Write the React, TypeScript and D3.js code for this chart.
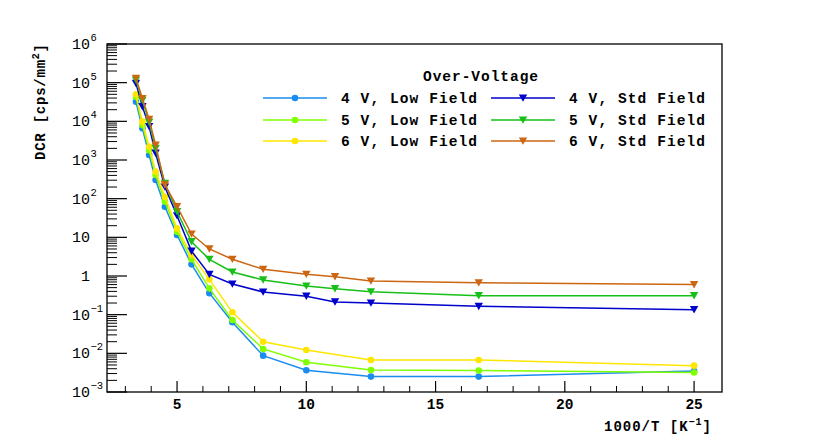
import React from 'react';
import * as d3 from 'd3';

// 1000/T values of the measured points
const xLow = [3.41, 3.66, 3.92, 4.17, 4.53, 5.0, 5.56, 6.25, 7.14, 8.33, 10.0, 12.5, 16.67, 25.0];
const xStd = [3.41, 3.66, 3.92, 4.17, 4.53, 5.0, 5.56, 6.25, 7.14, 8.33, 10.0, 11.11, 12.5, 16.67, 25.0];

// DCR in cps/mm^2
const low4 = [3.2e4, 6600, 1350, 304, 62, 11.5, 2.0, 0.36, 0.0635, 0.0087, 0.00365, 0.0025, 0.0025, 0.0035];
const low5 = [4.3e4, 8000, 1800, 410, 84, 14, 2.7, 0.48, 0.073, 0.013, 0.0059, 0.0037, 0.0036, 0.0032];
const low6 = [5.0e4, 9800, 2200, 500, 112, 17, 3.5, 0.82, 0.115, 0.02, 0.0122, 0.0067, 0.0067, 0.0048];
const std4 = [9.6e4, 2.4e4, 7300, 1500, 200, 36, 4.4, 1.1, 0.62, 0.386, 0.3, 0.213, 0.2, 0.164, 0.135];
const std5 = [1.17e5, 3.5e4, 9500, 2000, 250, 46, 7.7, 2.7, 1.27, 0.79, 0.55, 0.47, 0.39, 0.31, 0.31];
const std6 = [1.3e5, 3.9e4, 1.13e4, 2440, 226, 62, 12.2, 5.0, 2.71, 1.49, 1.11, 0.96, 0.74, 0.67, 0.6];

const xTicks = [5, 10, 15, 20, 25];
const yExponents = [-3, -2, -1, 0, 1, 2, 3, 4, 5, 6];

const legendTitle = 'Over-Voltage';

const series = [
  { name: '4 V, Low Field', x: xLow, y: low4, color: '#1a8cf0', marker: 'circle' },
  { name: '5 V, Low Field', x: xLow, y: low5, color: '#80ff00', marker: 'circle' },
  { name: '6 V, Low Field', x: xLow, y: low6, color: '#ffe600', marker: 'circle' },
  { name: '4 V, Std Field', x: xStd, y: std4, color: '#0000cc', marker: 'tri' },
  { name: '5 V, Std Field', x: xStd, y: std5, color: '#16c016', marker: 'tri' },
  { name: '6 V, Std Field', x: xStd, y: std6, color: '#cc6611', marker: 'tri' },
];

const W = 830;
const H = 435;
const left = 107;
const right = 722;
const top = 44;
const bottom = 392;
const MONO = 'Courier New, Courier, Liberation Mono, monospace';

const Marker = ({ kind, x, y, color }: { kind: string; x: number; y: number; color: string }) =>
  kind === 'circle' ? (
    <circle cx={x} cy={y} r={3.3} fill={color} />
  ) : (
    <path d={`M${x - 4.2},${y - 3.6}L${x + 4.2},${y - 3.6}L${x},${y + 3.8}Z`} fill={color} />
  );

const supLabel = (e: number) => {
  if (e === 0) return { base: '1', exp: '' };
  if (e === 1) return { base: '10', exp: '' };
  return { base: '10', exp: e < 0 ? `\u2212${-e}` : `${e}` };
};

const txt = (size: number, bold = true): React.CSSProperties => ({
  fontFamily: MONO,
  fontSize: size,
  fontWeight: bold ? 'bold' : 'normal',
});

export default function App() {
  const x = d3.scaleLinear().domain([2.29, 26.08]).range([left, right]);
  const y = d3.scaleLog().domain([1e-3, 1e6]).range([bottom, top]);

  const line = d3
    .line<[number, number]>()
    .x(d => x(d[0]))
    .y(d => y(d[1]));

  const minorY: number[] = [];
  for (let e = -3; e < 6; e++) for (let m = 2; m <= 9; m++) minorY.push(m * Math.pow(10, e));
  const minorX = d3.range(3, 26).filter(v => v % 5 !== 0);

  const rowY = [98, 120, 141];
  const cols = [
    { x0: 263, x1: 327, tx: 341 },
    { x0: 491, x1: 555, tx: 569 },
  ];

  return (
    <svg width={W} height={H} style={{ position: 'absolute', left: 0, top: 0, background: '#fff' }}>
      <rect x={0} y={0} width={W} height={H} fill="#fff" />

      {/* y ticks */}
      {yExponents.map(e => (
        <line key={`ym${e}`} x1={left} x2={left + 20} y1={y(Math.pow(10, e))} y2={y(Math.pow(10, e))} stroke="#000" strokeWidth={1.2} />
      ))}
      {minorY.map((v, i) => (
        <line key={`yn${i}`} x1={left} x2={left + 10} y1={y(v)} y2={y(v)} stroke="#000" strokeWidth={1} />
      ))}
      {/* x ticks */}
      {xTicks.map(t => (
        <line key={`xm${t}`} x1={x(t)} x2={x(t)} y1={bottom} y2={bottom - 11} stroke="#000" strokeWidth={1.2} />
      ))}
      {minorX.map(t => (
        <line key={`xn${t}`} x1={x(t)} x2={x(t)} y1={bottom} y2={bottom - 6} stroke="#000" strokeWidth={1} />
      ))}

      {/* y tick labels */}
      {yExponents.map(e => {
        const { base, exp } = supLabel(e);
        const yy = y(Math.pow(10, e));
        return (
          <g key={`yl${e}`}>
            <text x={90} y={yy + 5} textAnchor="end" style={txt(15, false)} fill="#000">
              {base}
            </text>
            {exp && (
              <text x={90.5} y={yy - 3} style={txt(10.5, false)} fill="#000">
                {exp}
              </text>
            )}
          </g>
        );
      })}

      {/* x tick labels */}
      {xTicks.map(t => (
        <text key={`xl${t}`} x={x(t)} y={409} textAnchor="middle" style={txt(14.5)} fill="#000">
          {t}
        </text>
      ))}

      {/* axis titles */}
      <text x={604} y={431} textLength={107} lengthAdjust="spacing" style={txt(14)} fill="#000">
        1000/T [K
        <tspan dy={-6} style={{ fontSize: 10 }}>{'\u22121'}</tspan>
        <tspan dy={6}>]</tspan>
      </text>
      <text transform="translate(45,160) rotate(-90)" textLength={116} lengthAdjust="spacing" style={txt(14)} fill="#000">
        DCR [cps/mm
        <tspan dy={-6} style={{ fontSize: 10 }}>2</tspan>
        <tspan dy={6}>]</tspan>
      </text>

      {/* series */}
      {series.map(s => (
        <g key={s.name}>
          <path
            d={line(s.x.map((v, i) => [v, s.y[i]] as [number, number])) || ''}
            fill="none"
            stroke={s.color}
            strokeWidth={1.5}
          />
          {s.x.map((v, i) => (
            <Marker key={i} kind={s.marker} x={x(v)} y={y(s.y[i])} color={s.color} />
          ))}
        </g>
      ))}

      {/* legend */}
      <text x={423} y={81} textLength={115} lengthAdjust="spacing" style={txt(14.5)} fill="#000">
        {legendTitle}
      </text>
      {series.map((s, i) => {
        const col = cols[Math.floor(i / 3)];
        const ry = rowY[i % 3];
        return (
          <g key={`lg${i}`}>
            <line x1={col.x0} x2={col.x1} y1={ry} y2={ry} stroke={s.color} strokeWidth={1.5} />
            <Marker kind={s.marker} x={(col.x0 + col.x1) / 2} y={ry} color={s.color} />
            <text x={col.tx} y={ry + 5} textLength={136} lengthAdjust="spacing" style={txt(14.5)} fill="#000">
              {s.name}
            </text>
          </g>
        );
      })}

      {/* frame */}
      <rect x={left} y={top} width={right - left} height={bottom - top} fill="none" stroke="#000" strokeWidth={1.3} />
    </svg>
  );
}
